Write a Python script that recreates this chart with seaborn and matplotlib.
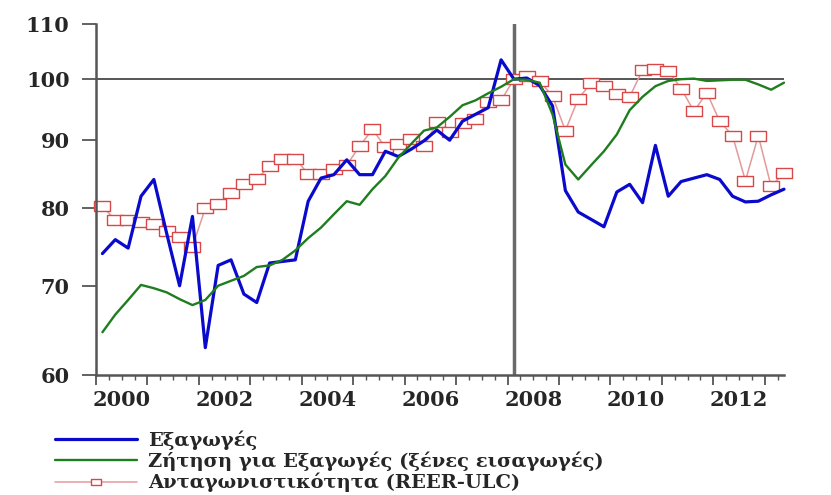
import matplotlib
matplotlib.use("Agg")
import matplotlib.pyplot as plt
from matplotlib.ticker import FixedLocator, FixedFormatter, NullLocator
import seaborn as sns
import pandas as pd
import numpy as np

# Quarterly data 2000Q1 - 2013Q2, index 2008Q1 = 100
quarters = pd.period_range("2000Q1", "2013Q2", freq="Q")

exports = [74.0, 75.8, 74.7, 81.7, 84.1, 76.6, 70.0, 78.9, 62.9, 72.5,
           73.2, 69.0, 68.0, 72.8, 73.0, 73.2, 81.0, 84.3, 84.8, 87.0,
           84.8, 84.8, 88.3, 87.5, 88.6, 89.9, 91.6, 90.0, 93.0, 94.1,
           95.2, 103.4, 100.0, 100.2, 98.9, 95.5, 82.5, 79.5, 78.5, 77.5,
           82.3, 83.4, 80.8, 89.2, 81.7, 83.8, 84.3, 84.8, 84.1, 81.7,
           80.9, 81.0, 81.9, 82.7]

foreign_demand = [64.6, 66.6, 68.3, 70.1, 69.7, 69.2, 68.4, 67.7, 68.3, 70.0,
                  70.6, 71.2, 72.3, 72.5, 73.2, 74.4, 76.0, 77.4, 79.2, 81.0,
                  80.5, 82.7, 84.6, 87.3, 89.4, 91.5, 92.0, 93.7, 95.6, 96.4,
                  97.6, 98.7, 100.0, 99.9, 99.4, 94.1, 86.3, 84.1, 86.2, 88.3,
                  90.9, 94.8, 97.0, 98.8, 99.7, 100.0, 100.1, 99.7, 99.8, 99.9,
                  99.9, 99.1, 98.2, 99.4]

reer_ulc = [80.3, 78.4, 78.4, 78.2, 77.9, 76.9, 76.1, 74.9, 80.0, 80.6,
            82.1, 83.5, 84.1, 86.1, 87.2, 87.2, 84.9, 84.9, 85.6, 86.2,
            89.1, 91.7, 88.9, 89.4, 90.2, 89.1, 92.8, 91.3, 92.7, 93.4,
            96.2, 96.4, 100.0, 100.5, 99.7, 97.1, 91.5, 96.7, 99.3, 98.8,
            97.4, 97.0, 101.6, 101.8, 101.5, 98.4, 94.6, 97.7, 93.0, 90.7,
            83.9, 90.7, 83.1, 85.1]

labels = ["Εξαγωγές",
          "Ζήτηση για Εξαγωγές (ξένες εισαγωγές)",
          "Ανταγωνιστικότητα (REER-ULC)"]

y_ticks = [60, 70, 80, 90, 100, 110]
year_labels = ["2000", "2002", "2004", "2006", "2008", "2010", "2012"]

# mid-quarter position on a continuous year axis
t = quarters.year + (quarters.quarter - 0.5) / 4
df = pd.DataFrame({"t": t, "exports": exports,
                   "demand": foreign_demand, "reer": reer_ulc})

# flat rectangle marker (wider than tall)
rect_marker = [(-1, -0.6), (1, -0.6), (1, 0.6), (-1, 0.6), (-1, -0.6)]

sns.set_style("ticks")
plt.rcParams["font.family"] = ["DejaVu Serif"]
plt.rcParams["font.weight"] = "bold"

fig = plt.figure(figsize=(8.31, 4.95), dpi=100)
ax = fig.add_axes([96 / 831, 1 - 375 / 495, (784 - 96) / 831, (375 - 24) / 495])

ax.axhline(100, color="#555555", lw=1.4, zorder=1)
ax.axvline(2008.125, color="#6a6a6a", lw=2.5, zorder=1)

sns.lineplot(data=df, x="t", y="reer", ax=ax, color="#e39a9a", lw=1.1,
             marker=rect_marker, markersize=11, markerfacecolor="white",
             markeredgecolor="#d84848", markeredgewidth=1.0,
             label=labels[2], zorder=2, clip_on=False)
sns.lineplot(data=df, x="t", y="exports", ax=ax, color="#0a0acc", lw=2.3,
             label=labels[0], zorder=3, clip_on=False)
sns.lineplot(data=df, x="t", y="demand", ax=ax, color="#1e7d1e", lw=1.7,
             label=labels[1], zorder=3, clip_on=False)

ax.set_yscale("log")
ax.set_ylim(60, 110)
ax.set_xlim(2000, 2013.375)
ax.yaxis.set_major_locator(FixedLocator(y_ticks))
ax.yaxis.set_major_formatter(FixedFormatter([str(v) for v in y_ticks]))
ax.yaxis.set_minor_locator(NullLocator())

# yearly ticks (long) and quarterly ticks (short); labels centred on years
ax.set_xticks(np.arange(2000, 2014))
ax.set_xticklabels([])
ax.set_xticks(np.arange(2000, 2013.5, 0.25), minor=True)
ax.tick_params(axis="x", which="major", length=7, width=1.3, color="#555555")
ax.tick_params(axis="x", which="minor", length=3.5, width=1.0, color="#555555")
ax.tick_params(axis="y", which="major", length=10, width=1.3, color="#555555",
               pad=9, labelsize=15)

sec = ax.secondary_xaxis("bottom")
sec.set_xticks([int(y) + 0.5 for y in year_labels])
sec.set_xticklabels(year_labels)
sec.tick_params(length=0, pad=11, labelsize=15)
sec.spines["bottom"].set_visible(False)

ax.set_xlabel("")
ax.set_ylabel("")
sns.despine(ax=ax)
for s in ["left", "bottom"]:
    ax.spines[s].set_color("#555555")
    ax.spines[s].set_linewidth(1.8)

handles, labs = ax.get_legend_handles_labels()
order = [labs.index(l) for l in labels]
ax.get_legend().remove()
fig.legend([handles[i] for i in order], labels, loc="upper left",
           bbox_to_anchor=(55 / 831, 1 - 430 / 495), frameon=False,
           borderpad=0, borderaxespad=0, handlelength=4.2, handletextpad=0.6,
           labelspacing=0.1, fontsize=14, markerscale=0.65)

fig.savefig("out.png", dpi=100)
